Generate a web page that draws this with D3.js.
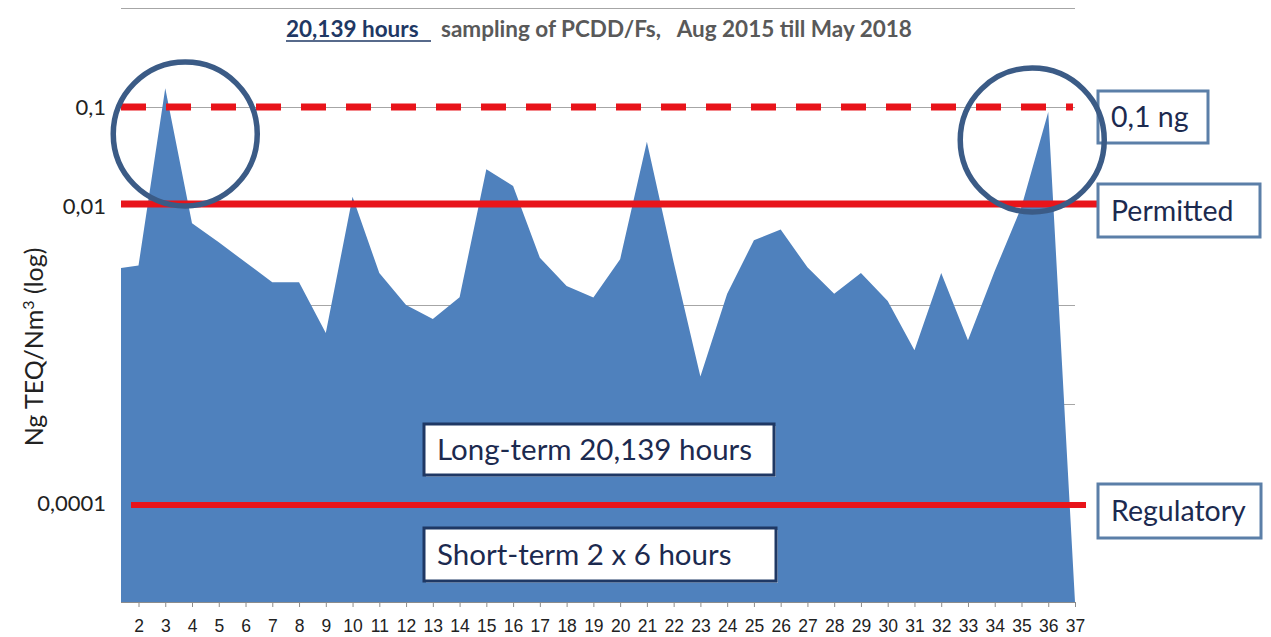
<!DOCTYPE html>
<html>
<head>
<meta charset="utf-8" />
<script src="https://d3js.org/d3.v7.min.js"></script>
<style>
  body { margin: 0; background: #fff; }
  svg { display: block; font-family: Lato, "Open Sans", sans-serif; }
  text { white-space: pre; }
  .grid line { stroke: #a6a6a6; stroke-width: 1px; }
  .xaxis text { font-size: 17.5px; fill: #222; }
  .xaxis line, .xaxis path { stroke: #8c8c8c; }
  .ylab { font-size: 22px; fill: #222; }
  .box rect { fill: #fff; }
  .box text { fill: #1c2a4f; }
</style>
</head>
<body>
<svg id="chart" width="1271" height="637"></svg>
<script>
// sample number (1..37) and PCDD/F concentration, ng TEQ/Nm3
const samples = d3.range(1, 38);
const values = [
  0.0023, 0.0025, 0.155, 0.0067, 0.0043, 0.0027, 0.0017, 0.0017, 0.00052, 0.0124,
  0.0021, 0.0010, 0.00072, 0.0012, 0.0235, 0.0159, 0.0030, 0.00156, 0.00119, 0.0029,
  0.0446, 0.0027, 0.00019, 0.0013, 0.0045, 0.0058, 0.0024, 0.0013, 0.0021, 0.0011,
  0.00035, 0.0021, 0.00044, 0.0022, 0.0098, 0.089, 0.000001
];
const xTicks = d3.range(2, 38);
const gridValues = [1, 0.1, 0.01, 0.001, 0.0001, 0.00001];
const yTickValues = [0.1, 0.01, 0.00001];
const yTickLabels = ["0,1", "0,01", "0,0001"];
const limitValues = [0.1, 0.01, 0.00001];
const limitNames = ["0,1 ng", "Permitted", "Regulatory"];
const titleStrong = "20,139 hours";
const titleRest = "sampling of PCDD/Fs,   Aug 2015 till May 2018";
const noteLabels = ["Long-term 20,139 hours", "Short-term 2 x 6 hours"];
const circledSamples = [3, 36];

const data = samples.map((s, i) => ({ s, v: values[i] }));

const pLeft = 121, pRight = 1075, pTop = 8, pBottom = 602;
const svg = d3.select("#chart");

const x = d3.scaleLinear().domain([2, 37]).range([138.5, pRight]);
const y = d3.scaleLog().domain([1e-6, 1]).range([pBottom, pTop]);

svg.append("clipPath").attr("id", "plot")
  .append("rect").attr("x", pLeft).attr("y", pTop - 2)
  .attr("width", pRight - pLeft).attr("height", pBottom - pTop + 2);

// gridlines
svg.append("g").attr("class", "grid")
  .selectAll("line").data(gridValues).join("line")
  .attr("x1", pLeft).attr("x2", pRight)
  .attr("y1", d => Math.round(y(d)) + 0.5).attr("y2", d => Math.round(y(d)) + 0.5);

// area
svg.append("path")
  .datum(data)
  .attr("clip-path", "url(#plot)")
  .attr("fill", "#4f81bd")
  .attr("d", d3.area().x(d => x(d.s)).y0(pBottom).y1(d => y(d.v)));

// x axis
const xAxis = svg.append("g").attr("class", "xaxis")
  .attr("transform", `translate(0,${pBottom})`)
  .call(d3.axisBottom(x).tickValues(xTicks).tickSize(5).tickPadding(13).tickFormat(d3.format("d")));
xAxis.select(".domain").attr("d", `M${pLeft},0.5H${pRight}`);

// y labels
svg.append("g").selectAll("text").data(yTickValues).join("text")
  .attr("class", "ylab")
  .attr("x", 106).attr("y", d => y(d))
  .attr("dy", "0.36em").attr("text-anchor", "end")
  .text((d, i) => yTickLabels[i]);

svg.append("text")
  .attr("transform", `translate(43,${(pTop + pBottom) / 2 + 42}) rotate(-90)`)
  .attr("text-anchor", "middle")
  .style("font-size", "25px").style("fill", "#222")
  .html('Ng TEQ/Nm<tspan dy="-9" font-size="16px">3</tspan><tspan dy="9"> (log)</tspan>');

// title
const title = svg.append("text").attr("x", 286).attr("y", 37)
  .style("font-size", "22.5px").style("font-weight", "bold");
title.append("tspan").style("fill", "#1f3864").text(titleStrong);
title.append("tspan").attr("x", 441).style("fill", "#595959").text(titleRest);
svg.append("line").attr("x1", 286).attr("x2", 431).attr("y1", 41).attr("y2", 41)
  .attr("stroke", "#1f3864").attr("stroke-width", 1.5);

// limit lines
svg.append("line")
  .attr("x1", pLeft).attr("x2", 1073).attr("y1", y(limitValues[0])).attr("y2", y(limitValues[0]))
  .attr("stroke", "#e8141a").attr("stroke-width", 7).attr("stroke-dasharray", "25,20");
svg.append("line")
  .attr("x1", pLeft).attr("x2", 1098).attr("y1", y(limitValues[1]) - 2).attr("y2", y(limitValues[1]) - 2)
  .attr("stroke", "#e8141a").attr("stroke-width", 7);
svg.append("line")
  .attr("x1", 131).attr("x2", 1086).attr("y1", y(limitValues[2]) + 2).attr("y2", y(limitValues[2]) + 2)
  .attr("stroke", "#e8141a").attr("stroke-width", 6);

// right-hand labels
const rightBoxes = [
  { x: 1098, y: 91, w: 110, h: 52 },
  { x: 1098, y: 184, w: 162, h: 53 },
  { x: 1098, y: 484, w: 163, h: 54 }
];
rightBoxes.forEach((b, i) => {
  const g = svg.append("g").attr("class", "box");
  g.append("rect").attr("x", b.x).attr("y", b.y).attr("width", b.w).attr("height", b.h)
    .attr("stroke", "#5b7fa8").attr("stroke-width", 3);
  g.append("text").attr("x", b.x + 13).attr("y", b.y + b.h / 2).attr("dy", "0.36em")
    .style("font-size", "28.5px").text(limitNames[i]);
});

// notes inside the area
const noteBoxes = [
  { x: 424, y: 424, w: 350, h: 51 },
  { x: 424, y: 528, w: 352, h: 53 }
];
noteBoxes.forEach((b, i) => {
  const g = svg.append("g").attr("class", "box");
  g.append("rect").attr("x", b.x + 2).attr("y", b.y + 2).attr("width", b.w).attr("height", b.h)
    .attr("fill", "#1f3864").attr("opacity", 0.5);
  g.append("rect").attr("x", b.x).attr("y", b.y).attr("width", b.w).attr("height", b.h)
    .attr("stroke", "#1f3864").attr("stroke-width", 3);
  g.append("text").attr("x", b.x + 13).attr("y", b.y + b.h / 2).attr("dy", "0.36em")
    .style("font-size", "29.5px").text(noteLabels[i]);
});

// circles around the two exceedances
svg.append("g").selectAll("ellipse").data(circledSamples).join("ellipse")
  .attr("cx", d => x(d) + 20 - (d === 36 ? 36 : 0))
  .attr("cy", d => d === 3 ? 134 : 140)
  .attr("rx", 72).attr("ry", 72)
  .attr("fill", "none").attr("stroke", "#3b5b86").attr("stroke-width", 5.5);
</script>
</body>
</html>
